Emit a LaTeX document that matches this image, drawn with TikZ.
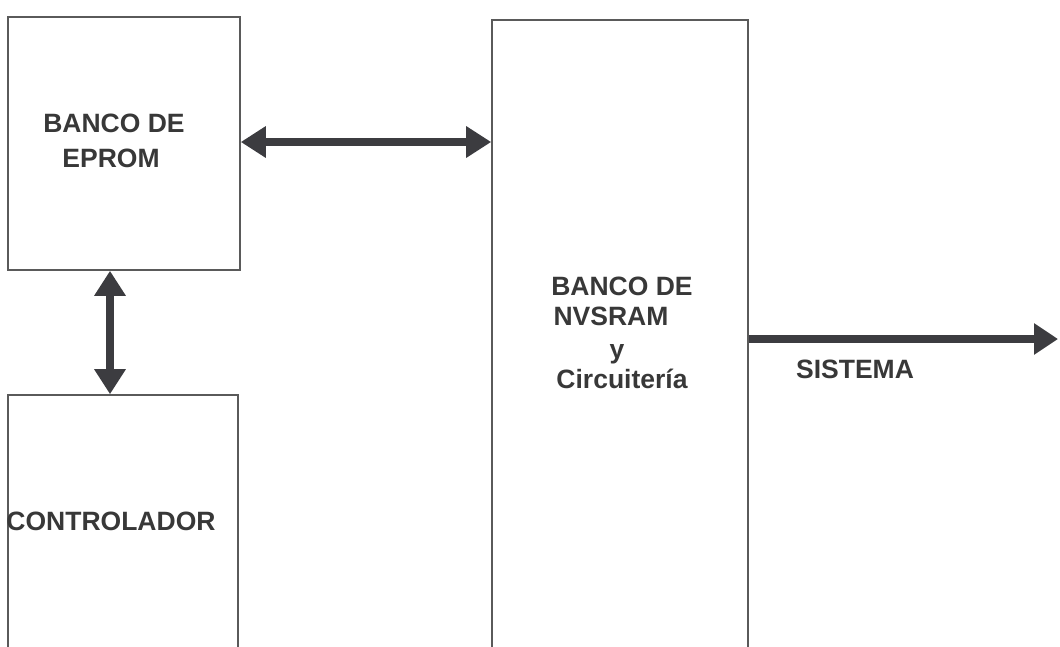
\documentclass[tikz,border=0pt]{standalone}
\usepackage{fontspec}
\setmainfont{Liberation Sans}
\usetikzlibrary{arrows.meta}
\definecolor{boxline}{HTML}{5A5A5A}
\definecolor{arrowc}{HTML}{3C3C40}
\definecolor{txt}{HTML}{383838}
\tikzset{
  blockbox/.style={draw=boxline, line width=1.6pt, inner sep=0pt, fill=none},
  lbl/.style={anchor=base, inner sep=0pt, text=txt, font=\fontsize{26.5}{30}\selectfont\bfseries},
  bus/.style={draw=arrowc, line width=8pt, {Triangle[width=30pt,length=25pt]}-{Triangle[width=30pt,length=25pt]}},
  outbus/.style={draw=arrowc, line width=8pt, -{Triangle[width=30pt,length=24pt]}}
}
\begin{document}
\begin{tikzpicture}[x=1pt,y=-1pt]
\path[use as bounding box, clip] (0,0) rectangle (1060,646);
\fill[white] (0,0) rectangle (1060,646);
% boxes
\node[blockbox, minimum width=232pt, minimum height=253pt] (eprom) at (124,143.5) {};
\node[blockbox, minimum width=230pt, minimum height=265pt] (ctrl) at (123,527.5) {};
\node[blockbox, minimum width=256pt, minimum height=640pt] (nv) at (620,340) {};
% labels
\node[lbl] (e1) at (114,132) {BANCO DE};
\node[lbl] (e2) at (111,167) {EPROM};
\node[lbl] (c1) at (111,530) {CONTROLADOR};
\node[lbl] (n1) at (622,295) {BANCO DE};
\node[lbl] (n2) at (611,325) {NVSRAM};
\node[lbl] (n3) at (617,358) {y};
\node[lbl] (n4) at (622,388) {Circuitería};
\node[lbl] (s1) at (855,378) {SISTEMA};
% connector guides
\coordinate (va) at (110,0);
\coordinate (ha) at (0,142);
\coordinate (sa) at (0,339);
\coordinate (sysend) at (1058,339);
% connectors
\draw[bus] (eprom.south -| va) -- (ctrl.north -| va);
\draw[bus] (eprom.east |- ha) -- (nv.west |- ha);
\draw[outbus] (nv.east |- sa) -- (sysend);
\end{tikzpicture}
\end{document}
